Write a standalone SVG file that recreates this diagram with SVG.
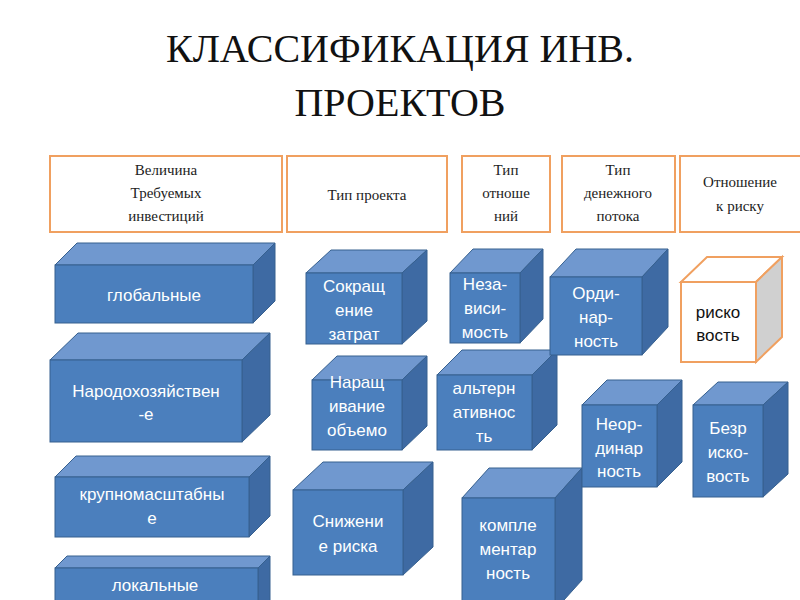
<svg xmlns="http://www.w3.org/2000/svg" width="800" height="600" viewBox="0 0 800 600">
<defs>
<style>
.f{fill:#4b7fbd;stroke:#36608f;stroke-width:1}
.t{fill:#7098cf;stroke:#36608f;stroke-width:1}
.s{fill:#3e6aa3;stroke:#36608f;stroke-width:1}
.wf{fill:#fff;stroke:#f0a060;stroke-width:2}
.ws{fill:#d0d0d0;stroke:#f0a060;stroke-width:2}
.h{fill:#fff;stroke:#f0a060;stroke-width:2}
.ht{font-family:"Liberation Serif",serif;font-size:15px;fill:#222;text-anchor:middle}
.ct{font-family:"Liberation Sans",Arial,sans-serif;font-size:17px;fill:#fff;text-anchor:middle}
.bt{font-family:"Liberation Sans",Arial,sans-serif;font-size:17px;fill:#111;text-anchor:middle}
.ti{font-family:"Liberation Serif",serif;font-size:40px;fill:#111;text-anchor:middle}
</style>
<clipPath id="c6"><rect x="300" y="350" width="140" height="106"/></clipPath>
</defs>
<rect width="800" height="600" fill="#fff"/>
<text class="ti" x="400" y="62">КЛАССИФИКАЦИЯ ИНВ.</text>
<text class="ti" x="400" y="116">ПРОЕКТОВ</text>

<g id="h1"><rect class="h" x="50" y="156" width="232" height="76"/><text class="ht" x="166" y="175">Величина</text><text class="ht" x="166" y="198">Требуемых</text><text class="ht" x="166" y="221">инвестиций</text></g>
<g id="h2"><rect class="h" x="287" y="156" width="160" height="76"/><text class="ht" x="367" y="200">Тип проекта</text></g>
<g id="h3"><rect class="h" x="462" y="156" width="88" height="76"/><text class="ht" x="506" y="175">Тип</text><text class="ht" x="506" y="198">отноше</text><text class="ht" x="506" y="221">ний</text></g>
<g id="h4"><rect class="h" x="562" y="156" width="113" height="76"/><text class="ht" x="618" y="175">Тип</text><text class="ht" x="618" y="198">денежного</text><text class="ht" x="618" y="221">потока</text></g>
<g id="h5"><rect class="h" x="680" y="156" width="122" height="76"/><text class="ht" x="740" y="187">Отношение</text><text class="ht" x="740" y="211">к риску</text></g>

<g id="b1"><polygon class="t" points="55,265 77,243 275,243 253,265"/><polygon class="s" points="253,265 275,243 275,301 253,323"/><rect class="f" x="55" y="265" width="198" height="58"/><text class="ct" x="154" y="301">глобальные</text></g>
<g id="b2"><polygon class="t" points="50,360 78,333 270,333 242,360"/><polygon class="s" points="242,360 270,333 270,415 242,442"/><rect class="f" x="50" y="360" width="192" height="82"/><text class="ct" x="146" y="397">Народохозяйствен</text><text class="ct" x="146" y="420">-е</text></g>
<g id="b3"><polygon class="t" points="55,477 76,456 270,456 249,477"/><polygon class="s" points="249,477 270,456 270,516 249,537"/><rect class="f" x="55" y="477" width="194" height="60"/><text class="ct" x="152" y="500">крупномасштабны</text><text class="ct" x="152" y="524">е</text></g>
<g id="b4"><polygon class="t" points="55,568 67,556 270,556 258,568"/><polygon class="s" points="258,568 270,556 270,610 258,622"/><rect class="f" x="55" y="568" width="203" height="50"/><text class="ct" x="155" y="591">локальные</text></g>

<g id="b5"><polygon class="t" points="306,273 331,250 427,250 402,273"/><polygon class="s" points="402,273 427,250 427,321 402,344"/><rect class="f" x="306" y="273" width="96" height="71"/><text class="ct" x="354" y="292">Сокращ</text><text class="ct" x="354" y="316">ение</text><text class="ct" x="354" y="340">затрат</text></g>
<g id="b6"><polygon class="t" points="312,380 337,356 427,356 402,380"/><polygon class="s" points="402,380 427,356 427,426 402,450"/><rect class="f" x="312" y="380" width="90" height="70"/><g clip-path="url(#c6)"><text class="ct" x="357" y="388">Наращ</text><text class="ct" x="357" y="412">ивание</text><text class="ct" x="357" y="436">объемо</text><text class="ct" x="357" y="460">в</text></g></g>
<g id="b7"><polygon class="t" points="293,490 323,462 433,462 403,490"/><polygon class="s" points="403,490 433,462 433,547 403,575"/><rect class="f" x="293" y="490" width="110" height="85"/><text class="ct" x="348" y="527">Снижени</text><text class="ct" x="348" y="552">е риска</text></g>

<g id="b8"><polygon class="t" points="450,273 473,249 543,249 520,273"/><polygon class="s" points="520,273 543,249 543,319 520,343"/><rect class="f" x="450" y="273" width="70" height="70"/><text class="ct" x="485" y="290">Неза-</text><text class="ct" x="485" y="314">виси-</text><text class="ct" x="485" y="338">мость</text></g>
<g id="b11"><polygon class="t" points="437,375 462,350 557,350 532,375"/><polygon class="s" points="532,375 557,350 557,425 532,450"/><rect class="f" x="437" y="375" width="95" height="75"/><text class="ct" x="484" y="394">альтерн</text><text class="ct" x="484" y="418">ативнос</text><text class="ct" x="484" y="442">ть</text></g>
<g id="b14"><polygon class="t" points="462,498 489,468 582,468 555,498"/><polygon class="s" points="555,498 582,468 582,580 555,610"/><rect class="f" x="462" y="498" width="93" height="112"/><text class="ct" x="508" y="531">компле</text><text class="ct" x="508" y="555">ментар</text><text class="ct" x="508" y="579">ность</text></g>

<g id="b9"><polygon class="t" points="550,277 576,249 668,249 642,277"/><polygon class="s" points="642,277 668,249 668,327 642,355"/><rect class="f" x="550" y="277" width="92" height="78"/><text class="ct" x="596" y="299">Орди-</text><text class="ct" x="596" y="323">нар-</text><text class="ct" x="596" y="347">ность</text></g>
<g id="b12"><polygon class="t" points="582,405 607,380 682,380 657,405"/><polygon class="s" points="657,405 682,380 682,462 657,487"/><rect class="f" x="582" y="405" width="75" height="82"/><text class="ct" x="619" y="430">Неор-</text><text class="ct" x="619" y="454">динар</text><text class="ct" x="619" y="477">ность</text></g>

<g id="b10"><polygon class="wf" points="681,282 707,257 782,257 756,282"/><polygon class="ws" points="756,282 782,257 782,337 756,362"/><rect class="wf" x="681" y="282" width="75" height="80"/><text class="bt" x="718" y="318">риско</text><text class="bt" x="718" y="341">вость</text></g>
<g id="b13"><polygon class="t" points="693,405 718,382 788,382 763,405"/><polygon class="s" points="763,405 788,382 788,474 763,497"/><rect class="f" x="693" y="405" width="70" height="92"/><text class="ct" x="728" y="434">Безр</text><text class="ct" x="728" y="458">иско-</text><text class="ct" x="728" y="482">вость</text></g>
<g id="connectors"/>
</svg>
